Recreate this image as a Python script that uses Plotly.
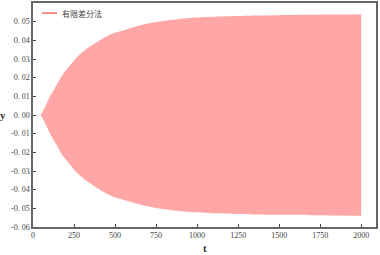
import plotly.graph_objects as go

# envelope of the oscillating finite-difference solution
t_vals = [0, 45, 60, 80, 104, 140, 183, 230, 268, 320, 408, 480, 573, 650, 732, 850, 957, 1100, 1250, 1366, 1500, 1700, 1850, 2000]
upper = [0.0, 0.0, 0.002, 0.0055, 0.010, 0.0155, 0.022, 0.027, 0.031, 0.035, 0.040, 0.0435, 0.046, 0.048, 0.0495, 0.051, 0.052, 0.0526, 0.053, 0.0533, 0.0535, 0.0537, 0.0538, 0.054]
lower = [-v for v in upper]

series_name = "有限差分法"
x_ticks = [0, 250, 500, 750, 1000, 1250, 1500, 1750, 2000]
y_ticks = [-0.06, -0.05, -0.04, -0.03, -0.02, -0.01, 0.0, 0.01, 0.02, 0.03, 0.04, 0.05, 0.06]
y_ticktext = [("-" if v < 0 else "") + "0. %02d" % round(abs(v) * 100) for v in y_ticks]

fill_color = "rgba(255,166,166,1)"
line_color = "#ff6b6b"
serif = "Liberation Serif, DejaVu Serif, serif"

fig = go.Figure()
fig.add_trace(go.Scatter(x=t_vals, y=upper, mode="lines",
                         line=dict(width=0, color=fill_color, shape="spline", smoothing=0.6),
                         showlegend=False, hoverinfo="skip"))
fig.add_trace(go.Scatter(x=t_vals, y=lower, mode="lines",
                         line=dict(width=0, color=fill_color, shape="spline", smoothing=0.6),
                         fill="tonexty", fillcolor=fill_color, showlegend=False, hoverinfo="skip",
                         name=series_name))

fig.update_layout(
    width=380, height=255,
    margin=dict(l=33, r=4, t=3, b=28, autoexpand=False),
    plot_bgcolor="white", paper_bgcolor="white",
    showlegend=False,
    font=dict(family=serif, size=8, color="#444"),
    shapes=[
        dict(type="line", xref="paper", yref="paper", x0=0.026, x1=0.070, y0=0.955, y1=0.955,
             line=dict(color=line_color, width=1.5)),
    ],
    annotations=[
        dict(text=series_name, xref="paper", yref="paper", x=0.079, y=0.955, xanchor="left", yanchor="middle",
             showarrow=False, font=dict(family="Noto Sans CJK SC", size=8, color="#444")),
        dict(text="<b>y</b>", xref="paper", yref="paper", x=-0.087, y=0.5, xanchor="center", yanchor="middle",
             showarrow=False, font=dict(family=serif, size=11, color="#333")),
        dict(text="<b>t</b>", xref="paper", yref="paper", x=0.5, y=-0.094, xanchor="center", yanchor="middle",
             showarrow=False, font=dict(family=serif, size=11, color="#333")),
    ],
)
fig.update_xaxes(range=[0, 2090], tickvals=x_ticks, ticktext=[str(v) for v in x_ticks],
                 showgrid=False, zeroline=False, showline=True, mirror=True, automargin=False,
                 linecolor="#666", linewidth=1.5, ticks="inside", ticklen=3, tickcolor="#444",
                 tickfont=dict(family=serif, size=8, color="#444"))
fig.update_yaxes(range=[-0.06, 0.06], tickvals=y_ticks, ticktext=y_ticktext,
                 showgrid=False, zeroline=False, showline=True, mirror=True, automargin=False,
                 linecolor="#666", linewidth=1.5, ticks="inside", ticklen=3, tickcolor="#444",
                 tickfont=dict(family=serif, size=8, color="#444"))

fig.write_html("out.html", config={"displayModeBar": False},
               post_script="document.body.style.margin='0';document.body.style.overflow='hidden';")
